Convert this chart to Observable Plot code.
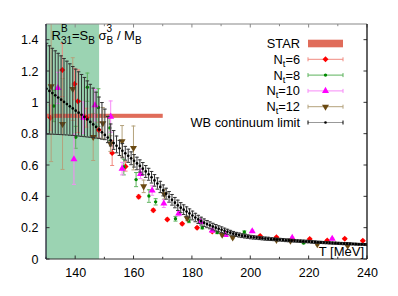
<!DOCTYPE html>
<html><head><meta charset="utf-8">
<script src="https://cdn.jsdelivr.net/npm/d3@7"></script>
<script src="https://cdn.jsdelivr.net/npm/@observablehq/plot@0.6"></script>
<style>
html,body{margin:0;padding:0;background:#fff;}
#chart svg{display:block;}
</style></head><body><div id="chart"></div>
<script>
// ---------- data ----------
const xDomain = [130, 240];
const yDomain = [0, 1.5];
const xTicks = [140, 160, 180, 200, 220, 240];
const xMinorTicks = [130, 140, 150, 160, 170, 180, 190, 200, 210, 220, 230, 240];
const yTicks = [0, 0.2, 0.4, 0.6, 0.8, 1, 1.2, 1.4];

const freezeBandT = [130, 148.2];           // green band
const starT = [130, 170];                   // STAR
const starY = [0.901, 0.927];

const nt6T = [131.4, 135.4, 139.6, 140.8, 143.7, 147.9, 152.5, 157.1, 161.6, 166.6, 171.4, 176.5, 181.6, 186.8, 203.2, 208.8, 214.2, 220.2, 226.2, 232.2, 238.4];
const nt6V = [0.905, 1.21, 1.12, 1.01, 0.905, 0.826, 0.68, 0.594, 0.40, 0.314, 0.256, 0.228, 0.203, 0.178, 0.15, 0.142, 0.131, 0.131, 0.122, 0.133, 0.12];
const nt6E = [0.08, 0.17, 0.10, 0.20, 0.06, 0.05, 0.08, 0.03, 0.012, 0.01, 0.008, 0.008, 0.007, 0.006, 0.006, 0.005, 0.005, 0.005, 0.005, 0.005, 0.005];

const nt8T = [132.5, 140.0, 144.0, 147.8, 151.7, 156.5, 160.7, 165.1, 167.4, 174.2, 178.8, 183.4, 188.5, 191.3, 197.8, 218.1];
const nt8V = [0.98, 0.78, 1.10, 0.97, 0.84, 0.59, 0.51, 0.405, 0.368, 0.26, 0.245, 0.203, 0.172, 0.155, 0.175, 0.105];
const nt8E = [0.10, 0.07, 0.09, 0.12, 0.08, 0.05, 0.045, 0.04, 0.02, 0.015, 0.01, 0.008, 0.007, 0.006, 0.008, 0.004];

const nt10T = [133.9, 139.4, 142.6, 146.6, 152.0, 155.9, 162.2, 166.2, 170.2, 175.3, 182.8, 186.8, 191.3, 200.5, 214.2, 227.9];
const nt10V = [1.095, 0.64, 0.905, 0.985, 0.912, 0.58, 0.546, 0.44, 0.357, 0.293, 0.24, 0.185, 0.157, 0.18, 0.138, 0.132];
const nt10E = [0.10, 0.16, 0.10, 0.10, 0.10, 0.04, 0.03, 0.03, 0.025, 0.015, 0.012, 0.01, 0.008, 0.008, 0.006, 0.006];

const nt12T = [131.6, 135.5, 139.0, 146.0, 149.3, 151.9, 155.9, 159.8, 163.3, 170.4, 178.2, 190.2, 193.8, 208.8, 213.6, 222.8, 233.2];
const nt12V = [1.105, 0.865, 1.088, 0.782, 0.87, 0.74, 0.755, 0.712, 0.467, 0.417, 0.263, 0.158, 0.14, 0.125, 0.12, 0.097, 0.088];
const nt12E = [0.48, 0.29, 0.20, 0.15, 0.10, 0.05, 0.10, 0.14, 0.04, 0.03, 0.015, 0.008, 0.008, 0.006, 0.006, 0.005, 0.005];

// WB continuum limit, one point per MeV from 130 to 240
const wbT = d3.range(130, 241);
const wbV = [
1.090,1.076,1.062,1.048,1.034,1.020,1.006,0.992,0.978,0.964,
0.950,0.937,0.924,0.910,0.894,0.878,0.862,0.846,0.829,0.812,
0.795,0.778,0.760,0.743,0.726,0.710,0.694,0.678,0.662,0.646,
0.630,0.613,0.597,0.580,0.562,0.544,0.525,0.505,0.485,0.463,
0.441,0.420,0.400,0.381,0.363,0.346,0.331,0.318,0.306,0.294,
0.281,0.268,0.256,0.245,0.235,0.226,0.218,0.210,0.203,0.196,
0.190,0.183,0.177,0.171,0.165,0.160,0.156,0.152,0.149,0.146,
0.143,0.141,0.139,0.137,0.135,0.133,0.132,0.130,0.129,0.127,
0.126,0.125,0.123,0.122,0.120,0.119,0.118,0.117,0.116,0.115,
0.114,0.112,0.111,0.110,0.109,0.108,0.107,0.106,0.105,0.104,
0.103,0.102,0.101,0.101,0.100,0.099,0.098,0.097,0.097,0.096,
0.095];
const wbErrUp = [
0.290,0.288,0.286,0.284,0.282,0.280,0.277,0.274,0.271,0.268,
0.265,0.261,0.257,0.252,0.246,0.240,0.232,0.222,0.208,0.190,
0.165,0.135,0.105,0.080,0.062,0.050,0.046,0.044,0.042,0.041,
0.040,0.040,0.039,0.039,0.038,0.038,0.037,0.037,0.036,0.036,
0.035,0.035,0.034,0.034,0.033,0.033,0.032,0.031,0.030,0.029,
0.028,0.027,0.026,0.025,0.024,0.023,0.022,0.021,0.020,0.019,
0.018,0.017,0.016,0.015,0.014,0.013,0.013,0.012,0.012,0.011,
0.011,0.011,0.010,0.010,0.010,0.010,0.010,0.009,0.009,0.009,
0.009,0.009,0.009,0.009,0.008,0.008,0.008,0.008,0.008,0.008,
0.008,0.008,0.008,0.007,0.007,0.007,0.007,0.007,0.007,0.007,
0.007,0.007,0.007,0.007,0.007,0.006,0.006,0.006,0.006,0.006,
0.006];
const wbErrDownLow = [
0.290,0.276,0.262,0.249,0.236,0.223,0.210,0.197,0.185,0.172,
0.160,0.149,0.138,0.126,0.112,0.098,0.084,0.071,0.057,0.044,
0.030,0.032,0.035,0.040,0.045,0.046,0.045,0.044,0.042,0.041];
const wbErrDown = wbErrDownLow.concat(wbErrUp.slice(wbErrDownLow.length));

// ---------- build tables ----------
const mk = (T, V, E) => T.map((t, i) => ({T: t, v: V[i], lo: V[i] - E[i], hi: V[i] + E[i]}));
const nt6 = mk(nt6T, nt6V, nt6E);
const nt8 = mk(nt8T, nt8V, nt8E);
const nt10 = mk(nt10T, nt10V, nt10E);
const nt12 = mk(nt12T, nt12V, nt12E);
const wb = wbT.map((t, i) => ({T: t, v: wbV[i], lo: wbV[i] - wbErrDown[i], hi: wbV[i] + wbErrUp[i]}));
const bandRows = [{x1: freezeBandT[0], x2: freezeBandT[1]}];
const starRows = [{x1: starT[0], x2: starT[1], y1: starY[0], y2: starY[1]}];

const cap = {draw(ctx, size) { const r = Math.sqrt(size / Math.PI); ctx.moveTo(-r, 0); ctx.lineTo(r, 0); }};

const C = {
  band: "#9bd3b2", star: "#e06c5a",
  nt6: "#ff0000", nt6bar: "#f08a80",
  nt8: "#008a00", nt8bar: "#5cb35c",
  nt10: "#ff00ff", nt10bar: "#f78af7",
  nt12: "#6b4a12", nt12bar: "#b4a27c",
  wb: "#000000", wbbar: "#333333"
};

function errMarks(data, barColor, capR = 2) {
  return [
    Plot.ruleX(data, {x: "T", y1: "lo", y2: "hi", stroke: barColor, strokeWidth: 1, clip: true}),
    Plot.dot(data, {x: "T", y: "lo", symbol: cap, r: capR, stroke: barColor, strokeWidth: 1, fill: "none", clip: true}),
    Plot.dot(data, {x: "T", y: "hi", symbol: cap, r: capR, stroke: barColor, strokeWidth: 1, fill: "none", clip: true})
  ];
}

const chart = Plot.plot({
  width: 398, height: 296,
  marginLeft: 46, marginRight: 31, marginTop: 24, marginBottom: 37,
  style: {fontFamily: "'Liberation Sans', Arial, Helvetica, sans-serif", fontSize: "12.5px", color: "#000", background: "#fff"},
  x: {domain: xDomain, label: null},
  y: {domain: yDomain, label: null},
  marks: [
    Plot.rect(bandRows, {x1: "x1", x2: "x2", fill: C.band}),
    Plot.rect(starRows, {x1: "x1", x2: "x2", y1: "y1", y2: "y2", fill: C.star}),
    ...errMarks(nt6, C.nt6bar),
    Plot.dot(nt6, {x: "T", y: "v", symbol: "diamond2", r: 2.7, fill: C.nt6, clip: true}),
    ...errMarks(nt8, C.nt8bar),
    Plot.dot(nt8, {x: "T", y: "v", symbol: "circle", r: 1.7, fill: C.nt8, clip: true}),
    ...errMarks(nt10, C.nt10bar),
    Plot.dot(nt10, {x: "T", y: "v", symbol: "triangle", r: 2.6, fill: C.nt10, clip: true}),
    ...errMarks(nt12, C.nt12bar),
    Plot.dot(nt12, {x: "T", y: "v", symbol: "triangle", rotate: 180, r: 2.6, fill: C.nt12, clip: true}),
    ...errMarks(wb, C.wbbar, 1.8),
    Plot.dot(wb, {x: "T", y: "v", r: 1.35, fill: C.wb, clip: true}),
    Plot.axisX({ticks: xTicks, tickSize: 0, tickPadding: 9, tickFormat: d => String(d), label: null}),
    Plot.axisY({ticks: yTicks, tickSize: 0, tickPadding: 8, tickFormat: d => String(d), label: null})
  ]
});
document.getElementById("chart").appendChild(chart);

// ---------- frame, inward ticks, texts ----------
const svg = d3.select(chart);
const sx = chart.scale("x"), sy = chart.scale("y");
const X = v => sx.apply(v), Y = v => sy.apply(v);
const L = X(xDomain[0]), R = X(xDomain[1]), B = Y(yDomain[0]), Tp = Y(yDomain[1]);
const g = svg.append("g").attr("fill", "none");
xMinorTicks.forEach(t => {
  const len = xTicks.includes(t) ? 3.5 : 2.2;
  g.append("line").attr("x1", X(t)).attr("x2", X(t)).attr("y1", B).attr("y2", B - len).attr("stroke", "#333");
  g.append("line").attr("x1", X(t)).attr("x2", X(t)).attr("y1", Tp).attr("y2", Tp + len).attr("stroke", "#888");
});
yTicks.forEach(t => {
  g.append("line").attr("x1", L).attr("x2", L + 3.5).attr("y1", Y(t)).attr("y2", Y(t)).attr("stroke", "#333");
  g.append("line").attr("x1", R).attr("x2", R - 3.5).attr("y1", Y(t)).attr("y2", Y(t)).attr("stroke", "#333");
});
g.append("line").attr("x1", L).attr("x2", R).attr("y1", Tp).attr("y2", Tp).attr("stroke", "#888").attr("stroke-width", 1.2);
g.append("line").attr("x1", L).attr("x2", R).attr("y1", B).attr("y2", B).attr("stroke", "#333").attr("stroke-width", 1.2);
g.append("line").attr("x1", L).attr("x2", L).attr("y1", Tp).attr("y2", B).attr("stroke", "#223").attr("stroke-width", 1.3);
g.append("line").attr("x1", R).attr("x2", R).attr("y1", Tp).attr("y2", B).attr("stroke", "#111").attr("stroke-width", 1.3);

const FONT = "'Liberation Sans', Arial, Helvetica, sans-serif";
const tg = svg.append("g").attr("font-family", FONT).attr("fill", "#000").attr("text-anchor", "start");

// title as a single text element built from tspans
(function title() {
  const size = 13, small = 10, up = -7.8, dn = 4;
  const t = tg.append("text").attr("x", 51.5).attr("y", 40).attr("font-size", size).attr("text-anchor", "start");
  let cur = 0;
  const span = (txt, level, fs, dx) => {
    const s = t.append("tspan").attr("font-size", fs).text(txt);
    if (level !== cur) { s.attr("dy", level - cur); cur = level; }
    if (dx) s.attr("dx", dx);
    return s.node().getComputedTextLength();
  };
  const stack = (sup, sub) => {
    const w1 = span(sup, up, small);
    const w2 = span(sub, dn, small, -w1);
    return Math.max(0, w1 - w2);
  };
  span("R", 0, size);
  let extra = stack("B", "31");
  span("=S", 0, size, extra || null);
  span("B", dn, small);
  span("\u00a0σ", 0, size);
  extra = stack("3", "B");
  span("\u00a0/\u00a0M", 0, size, extra || null);
  span("B", dn, small);
})();

tg.append("text").attr("x", 364).attr("y", 255.5).attr("text-anchor", "end").attr("font-size", 13).text("T [MeV]");

// legend
const lg = svg.append("g").attr("font-family", FONT);
const rows = [
  {label: ["STAR"], kind: "star"},
  {label: ["N", "t", "=6"], color: C.nt6, bar: C.nt6bar, sym: "diamond"},
  {label: ["N", "t", "=8"], color: C.nt8, bar: C.nt8bar, sym: "circle"},
  {label: ["N", "t", "=10"], color: C.nt10, bar: C.nt10bar, sym: "tri"},
  {label: ["N", "t", "=12"], color: C.nt12, bar: C.nt12bar, sym: "itri"},
  {label: ["WB continuum limit"], color: "#000", bar: "#999", sym: "dot"}
];
const rowY = [43.5, 59.3, 75.1, 90.9, 106.7, 122.5];
const tx = 300, s0 = 308, s1 = 343, sc = (s0 + s1) / 2;
rows.forEach((r, i) => {
  const y = rowY[i];
  const t = lg.append("text").attr("x", tx).attr("y", y + 4.4).attr("text-anchor", "end").attr("font-size", 12.8).attr("fill", "#000");
  if (r.label.length === 1) t.text(r.label[0]);
  else {
    t.append("tspan").text(r.label[0]);
    t.append("tspan").attr("dy", 3).attr("font-size", 9.5).text(r.label[1]);
    t.append("tspan").attr("dy", -3).text(r.label[2]);
  }
  if (r.kind === "star") {
    lg.append("rect").attr("x", s0).attr("y", y - 3.8).attr("width", s1 - s0).attr("height", 7.6).attr("fill", C.star);
    return;
  }
  lg.append("line").attr("x1", s0).attr("x2", s1).attr("y1", y).attr("y2", y).attr("stroke", r.bar).attr("stroke-width", 1);
  [s0, s1].forEach(xx => lg.append("line").attr("x1", xx).attr("x2", xx).attr("y1", y - 2).attr("y2", y + 2).attr("stroke", r.sym === "dot" ? "#000" : r.bar));
  const sym = {diamond: d3.symbolDiamond2, circle: d3.symbolCircle, tri: d3.symbolTriangle, itri: d3.symbolTriangle, dot: d3.symbolCircle}[r.sym];
  const rr = {diamond: 2.7, circle: 1.7, tri: 2.6, itri: 2.6, dot: 1.3}[r.sym];
  lg.append("path").attr("d", d3.symbol(sym, rr * rr * Math.PI)())
    .attr("transform", `translate(${sc},${y})` + (r.sym === "itri" ? " rotate(180)" : ""))
    .attr("fill", r.color);
});
</script></body></html>
